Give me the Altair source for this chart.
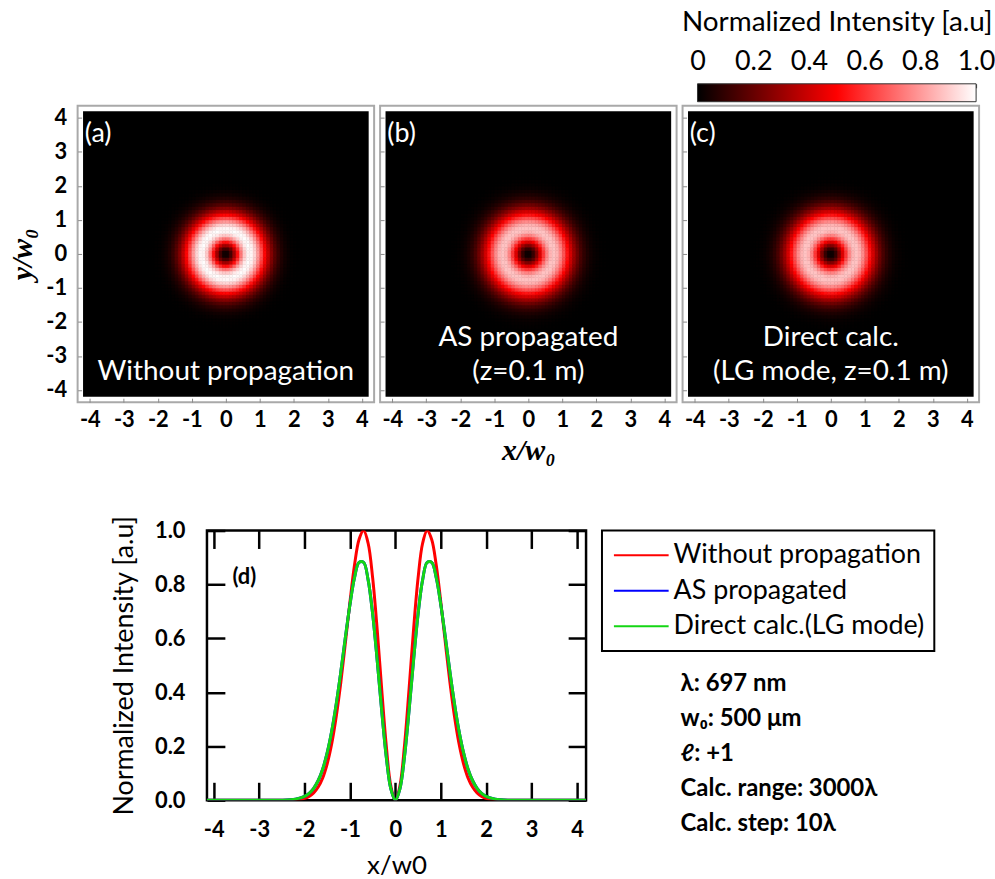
import altair as alt
import numpy as np
import pandas as pd

# ---------------- data ----------------
# Radial intensity profiles I(r) of the LG(0,+1) beam, r in units of w0
radius = [0.0, 0.1, 0.2, 0.3, 0.4, 0.5, 0.6, 0.7, 0.8, 0.9, 1.0, 1.1, 1.2, 1.3,
          1.4, 1.5, 1.6, 1.7, 1.8, 1.9, 2.0, 2.2, 2.5, 3.0, 4.2]
without_propagation = [0.0, 0.053, 0.201, 0.409, 0.632, 0.824, 0.953, 1.0, 0.967, 0.872,
                       0.736, 0.585, 0.439, 0.313, 0.211, 0.136, 0.083, 0.049, 0.027,
                       0.014, 0.007, 0.002, 0.0, 0.0, 0.0]
as_propagated = [0.0, 0.042, 0.160, 0.330, 0.518, 0.690, 0.817, 0.882, 0.882, 0.825,
                 0.726, 0.605, 0.478, 0.360, 0.258, 0.177, 0.116, 0.073, 0.044,
                 0.025, 0.014, 0.004, 0.0, 0.0, 0.0]
direct_lg = [0.0, 0.042, 0.160, 0.330, 0.518, 0.690, 0.817, 0.882, 0.882, 0.825,
             0.726, 0.605, 0.478, 0.360, 0.258, 0.177, 0.116, 0.073, 0.044,
             0.025, 0.014, 0.004, 0.0, 0.0, 0.0]

series_names = ["Without propagation", "AS propagated", "Direct calc.(LG mode)"]
series_colors = ["#ff0000", "#0000ff", "#14d614"]
profiles = [without_propagation, as_propagated, direct_lg]

axis_ticks = [-4, -3, -2, -1, 0, 1, 2, 3, 4]
intensity_ticks = [0.0, 0.2, 0.4, 0.6, 0.8, 1.0]
colorbar_ticks = [0.0, 0.05, 0.1, 0.15, 0.2, 0.25, 0.3, 0.35, 0.4, 0.45, 0.5,
                  0.55, 0.6, 0.65, 0.7, 0.75, 0.8, 0.85, 0.9, 0.95, 1.0]
colorbar_labels = ["0", "0.2", "0.4", "0.6", "0.8", "1"]

panel_letters = ["(a)", "(b)", "(c)"]
panel_captions = [["Without propagation"],
                  ["AS propagated", "(z=0.1 m)"],
                  ["Direct calc.", "(LG mode, z=0.1 m)"]]
caption_rows = [[-3.7], [-2.72, -3.72], [-2.72, -3.72]]

info_lines = ["λ: 697 nm", "w₀: 500 μm", "ℓ: +1", "Calc. range: 3000λ", "Calc. step: 10λ"]

# ---------------- style ----------------
FONT = "Lato"
MATH_FONT = "Liberation Serif"
HALF = 4.36      # half-width of an image panel, w0 units
FIELD = 4.2      # half-width of the computed field
PIXEL = 0.1      # image cell size, w0 units
PANEL = 298      # image panel size, px

intensity_scale = alt.Scale(domain=[0, 0.5, 1], range=["#000000", "#ff0000", "#ffffff"],
                            interpolate="rgb")
series_color = alt.Color("series:N", scale=alt.Scale(domain=series_names, range=series_colors),
                         legend=None)


def spacer(w, h):
    return (alt.Chart(pd.DataFrame({"s": [0]}))
            .mark_point(opacity=0, size=0)
            .encode(x=alt.value(0), y=alt.value(0))
            .properties(width=w, height=h))


# ---------------- colour bar ----------------
label_js = "[" + ",".join("'%s'" % s for s in colorbar_labels) + "]"
colorbar = (
    alt.Chart(pd.DataFrame({"lo": [0.0], "hi": [1.0]}))
    .mark_rect(
        color=alt.Gradient(
            gradient="linear",
            stops=[alt.GradientStop(color="#000000", offset=0),
                   alt.GradientStop(color="#ff0000", offset=0.5),
                   alt.GradientStop(color="#ffffff", offset=1)],
            x1=0, x2=1, y1=0, y2=0),
        stroke="#333333", strokeWidth=1)
    .encode(
        x=alt.X("lo:Q", scale=alt.Scale(domain=[0, 1], nice=False),
                axis=alt.Axis(orient="top", values=colorbar_ticks, offset=-4, tickSize=4,
                              tickColor="#333333", domain=False, grid=False,
                              labelExpr="indexof(%s, '' + datum.value) >= 0 ? "
                                        "(datum.value == 1 ? '1.0' : '' + datum.value) : ''" % label_js,
                              labelFont=FONT, labelFontSize=27, labelColor="black",
                              labelPadding=8, labelFlush=False, labelOverlap=False,
                              title="Normalized Intensity [a.u]", titleFont=FONT,
                              titleFontSize=28, titleFontWeight="normal", titleColor="black",
                              titlePadding=12)),
        x2="hi")
    .properties(width=280, height=18)
)


# ---------------- image panels ----------------
def image_table(profile):
    """Resample the radial profile onto a square grid of image cells."""
    n = int(round(FIELD / PIXEL))
    centres = (np.arange(-n, n) + 0.5) * PIXEL
    gx, gy = np.meshgrid(centres, centres)
    r = np.hypot(gx, gy)
    keep = r < 2.4
    gx, gy, r = gx[keep], gy[keep], r[keep]
    return pd.DataFrame({"x0": gx - PIXEL / 2, "x1": gx + PIXEL / 2,
                         "y0": gy - PIXEL / 2, "y1": gy + PIXEL / 2,
                         "value": np.round(np.interp(r, radius, profile), 4)})


def image_panel(profile, letter, captions, rows, first, middle):
    pos = alt.Scale(domain=[-HALF, HALF], nice=False, zero=False)
    common = dict(values=axis_ticks, offset=-4, tickSize=4, tickColor="#8a8a8a", tickWidth=1,
                  domain=False, grid=False, labelFont=FONT, labelFontWeight="bold",
                  labelFontSize=22, labelColor="black", labelExpr="'' + datum.value",
                  labelFlush=False, labelOverlap=False, titleFont=MATH_FONT,
                  titleFontStyle="italic", titleFontWeight="bold", titleFontSize=30,
                  titleColor="black")
    x_axis = alt.Axis(orient="bottom", labelPadding=7, titlePadding=6,
                      title="x/w₀" if middle else None, **common)
    if first:
        y_axis = alt.Axis(orient="left", labelPadding=11, titlePadding=8, title="y/w₀", **common)
    else:
        y_axis = alt.Axis(orient="left", labels=False, title=None,
                          **{k: v for k, v in common.items() if not k.startswith("label")})

    field = (alt.Chart(pd.DataFrame({"lo": [-FIELD], "hi": [FIELD]}))
             .mark_rect(color="black")
             .encode(x=alt.X("lo:Q", scale=pos, axis=x_axis), x2="hi",
                     y=alt.Y("lo:Q", scale=pos, axis=y_axis), y2="hi"))

    cells = (alt.Chart(image_table(profile))
             .mark_rect(strokeWidth=0.6)
             .encode(x=alt.X("x0:Q", scale=pos, axis=x_axis), x2="x1",
                     y=alt.Y("y0:Q", scale=pos, axis=y_axis), y2="y1",
                     fill=alt.Fill("value:Q", scale=intensity_scale, legend=None),
                     stroke=alt.Stroke("value:Q", scale=intensity_scale, legend=None)))

    tag = (alt.Chart(pd.DataFrame({"tx": [-4.15], "ty": [3.52], "t": [letter]}))
           .mark_text(align="left", baseline="middle", color="white", font=FONT, fontSize=27)
           .encode(x=alt.X("tx:Q", scale=pos, axis=x_axis),
                   y=alt.Y("ty:Q", scale=pos, axis=y_axis), text="t:N"))

    caption = (alt.Chart(pd.DataFrame({"tx": [0.0] * len(captions), "ty": rows, "t": captions}))
               .mark_text(align="center", baseline="alphabetic", color="white", font=FONT,
                          fontSize=28)
               .encode(x=alt.X("tx:Q", scale=pos, axis=x_axis),
                       y=alt.Y("ty:Q", scale=pos, axis=y_axis), text="t:N"))

    return alt.layer(field, cells, tag, caption).properties(
        width=PANEL, height=PANEL,
        view=alt.ViewBackground(stroke="#a9a9a9", strokeWidth=2, fill="white"))


panels = [image_panel(p, l, c, r, i == 0, i == 1)
          for i, (p, l, c, r) in enumerate(zip(profiles, panel_letters, panel_captions, caption_rows))]
heat_row = alt.hconcat(*panels, spacing=6, bounds="flush")

# ---------------- line profiles (d) ----------------
line_rows = []
for name, prof in zip(series_names, profiles):
    for r, v in zip(reversed(radius), reversed(prof)):
        if r > 0:
            line_rows.append({"series": name, "x": -r, "I": v})
    for r, v in zip(radius, prof):
        line_rows.append({"series": name, "x": r, "I": v})
line_df = pd.DataFrame(line_rows)

xs = alt.Scale(domain=[-4.15, 4.2], nice=False, zero=False)
ys = alt.Scale(domain=[0, 1], nice=False)
tick_style = dict(offset=-18, tickSize=18, tickWidth=2.5, tickColor="black", domain=False,
                  grid=False)
lab_style = dict(labelFont=FONT, labelFontWeight="bold", labelFontSize=22, labelColor="black",
                 labelFlush=False, titleFont=FONT, titleFontWeight="normal", titleColor="black")
bottom_axis = alt.Axis(orient="bottom", values=axis_ticks, labelExpr="'' + datum.value",
                       labelPadding=19, title="x/w0", titleFontSize=26, titlePadding=13,
                       **tick_style, **lab_style)
left_axis = alt.Axis(orient="left", values=intensity_ticks, format=".1f", labelPadding=22,
                     title="Normalized Intensity [a.u]", titleFontSize=27, titlePadding=16,
                     **tick_style, **lab_style)
top_axis = alt.Axis(orient="top", values=axis_ticks, labels=False, title=None, **tick_style)
right_axis = alt.Axis(orient="right", values=intensity_ticks, labels=False, title=None, **tick_style)


def profile_line(name, x_axis, y_axis):
    return (alt.Chart(line_df)
            .transform_filter(alt.datum.series == name)
            .mark_line(strokeWidth=3, interpolate="catmull-rom", clip=True)
            .encode(x=alt.X("x:Q", scale=xs, axis=x_axis),
                    y=alt.Y("I:Q", scale=ys, axis=y_axis),
                    color=series_color))


d_tag = (alt.Chart(pd.DataFrame({"tx": [-3.59], "ty": [0.827], "t": ["(d)"]}))
         .mark_text(align="left", baseline="middle", font=FONT, fontSize=22, fontWeight="bold",
                    color="black")
         .encode(x=alt.X("tx:Q", scale=xs, axis=None), y=alt.Y("ty:Q", scale=ys, axis=None),
                 text="t:N"))

profile_chart = (
    alt.layer(profile_line(series_names[0], bottom_axis, left_axis),
              profile_line(series_names[1], top_axis, right_axis),
              profile_line(series_names[2], None, None),
              d_tag)
    .resolve_axis(x="independent", y="independent")
    .properties(width=381, height=271,
                view=alt.ViewBackground(stroke="black", strokeWidth=2.5))
)

# ---------------- legend box and parameters ----------------
legend_df = pd.DataFrame({"series": series_names})
ly = alt.Y("series:N", sort=series_names, scale=alt.Scale(type="point", padding=0.7), axis=None)
legend_box = alt.layer(
    alt.Chart(legend_df).mark_rule(strokeWidth=2)
    .encode(x=alt.value(12), x2=alt.value(67), y=ly, color=series_color),
    alt.Chart(legend_df).mark_text(align="left", baseline="middle", font=FONT, fontSize=27,
                                   color="black")
    .encode(x=alt.value(72), y=ly, text="series:N"),
).properties(width=334, height=121, view=alt.ViewBackground(stroke="black", strokeWidth=2))

info_df = pd.DataFrame({"line": info_lines})
info = (alt.Chart(info_df)
        .mark_text(align="left", baseline="middle", font=FONT, fontSize=24, fontWeight="bold",
                   color="black")
        .encode(x=alt.value(79),
                y=alt.Y("line:N", sort=info_lines, scale=alt.Scale(type="point", padding=0.5),
                        axis=None),
                text="line:N")
        .properties(width=334, height=176))

right_col = alt.vconcat(legend_box, info, spacing=16, bounds="flush")
bottom_row = alt.hconcat(spacer(114, 271), profile_chart, right_col, spacing=16, bounds="flush")

top_row = alt.hconcat(spacer(623, 18), colorbar, spacing=0, bounds="flush")
upper = alt.vconcat(top_row, heat_row, spacing=2)

chart = (
    alt.vconcat(upper, bottom_row, spacing=47,
                padding={"left": 7, "top": 6, "right": 0, "bottom": 0})
    .configure(font=FONT, view=alt.ViewConfig(stroke=None))
)

chart.save("out.html", embed_options={"renderer": "svg", "actions": False})
